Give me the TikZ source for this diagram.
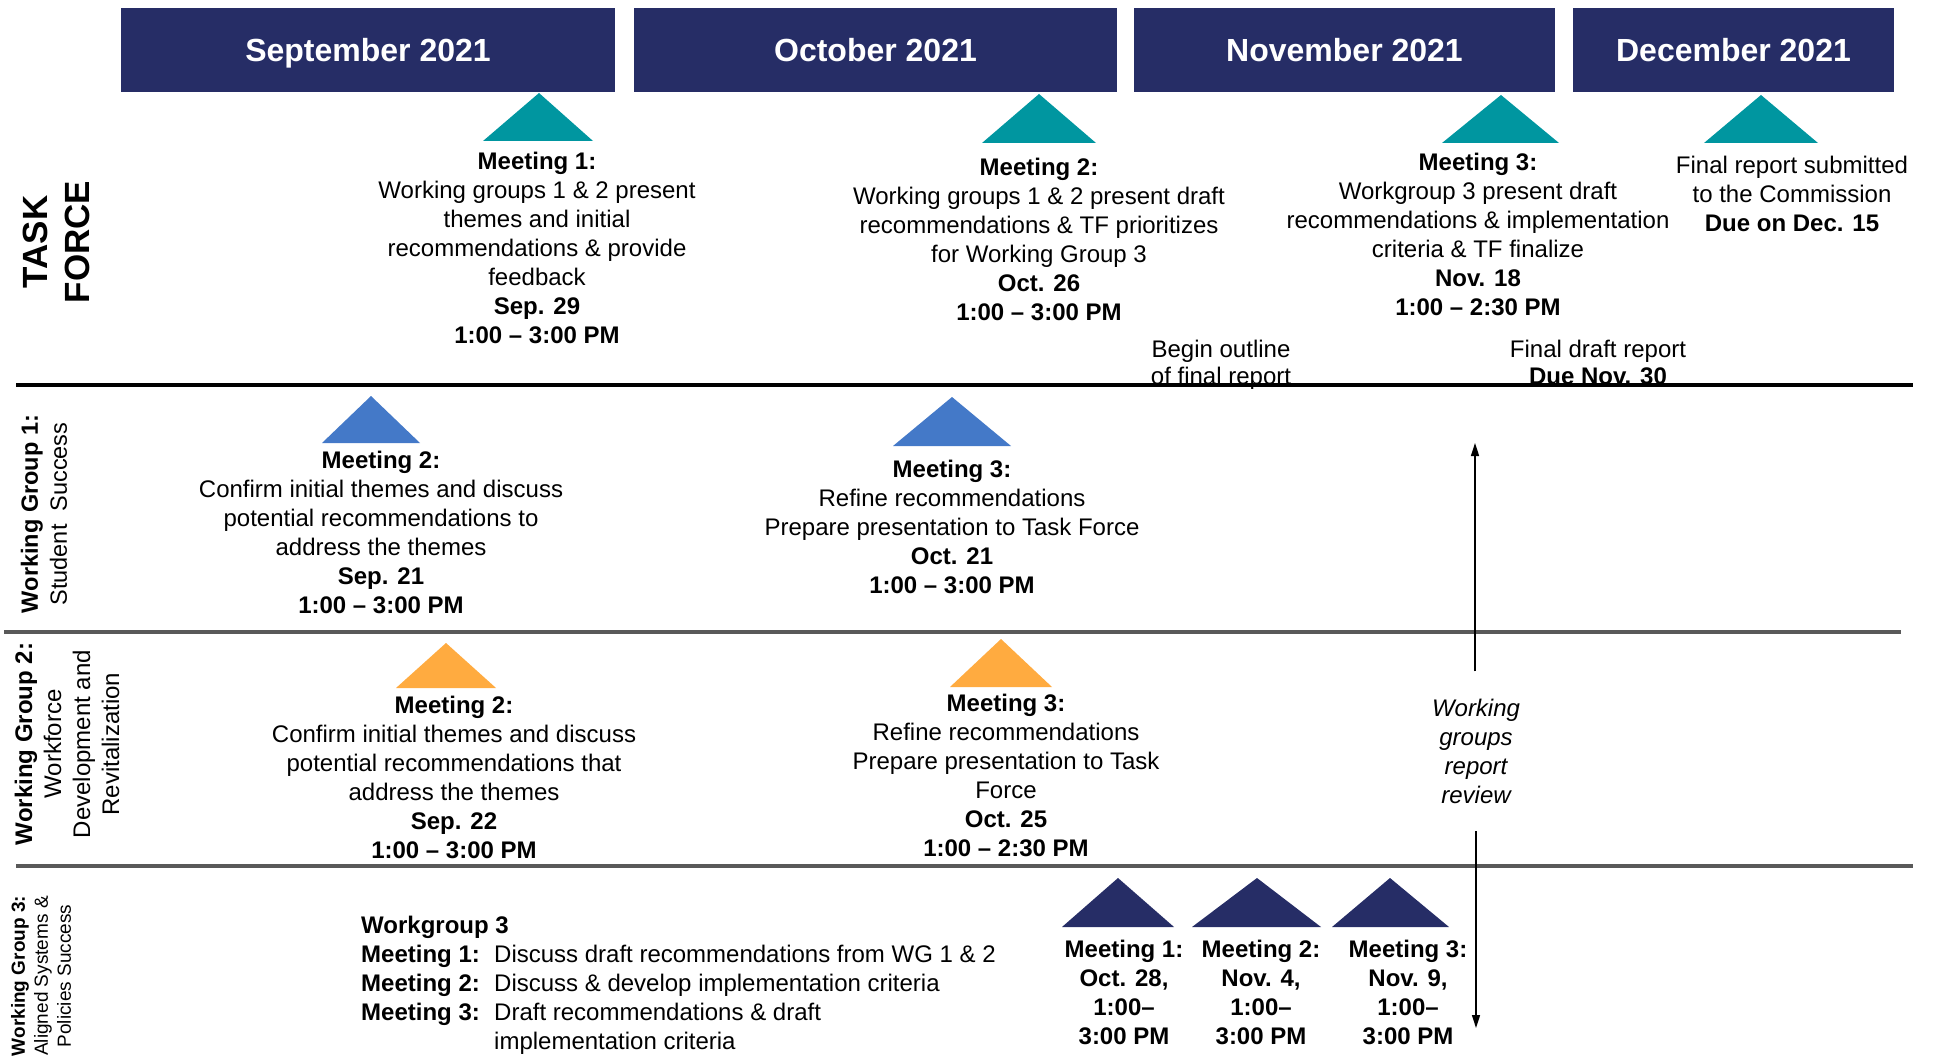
\documentclass[tikz,border=0pt]{standalone}
\usepackage{fontspec}
\setmainfont{Liberation Sans}
\usetikzlibrary{arrows.meta}
\definecolor{navy}{RGB}{38,45,102}
\definecolor{tealc}{RGB}{0,150,160}
\definecolor{bluec}{RGB}{68,121,200}
\definecolor{orangec}{RGB}{255,171,64}
\definecolor{greyline}{RGB}{89,89,89}
\begin{document}
\begin{tikzpicture}[x=1pt,y=-1pt,
  month/.style={fill=navy, text=white, font=\fontsize{32}{38}\selectfont\bfseries,
    text height=23pt, text depth=0pt, inner sep=0pt},
  body/.style={font=\fontsize{24}{29}\selectfont, align=center, inner sep=0pt, anchor=north},
  tight/.style={font=\fontsize{24}{27}\selectfont, align=center, inner sep=0pt, anchor=north},
  sidelab/.style={rotate=90, align=center, inner sep=0pt},
  arr/.style={line width=1.5pt, -{Triangle[length=13pt,width=8pt]}},
  sep/.style={line width=4pt}
]
\useasboundingbox (0,0) rectangle (1933,1059);

% month headers
\node[month, minimum width=494pt, minimum height=84pt] (sepm) at (368,50.5) {September 2021};
\node[month, minimum width=483pt, minimum height=84pt] (octm) at (875.5,50.5) {October 2021};
\node[month, minimum width=421pt, minimum height=84pt] (novm) at (1344.5,50.5) {November 2021};
\node[month, minimum width=321pt, minimum height=84pt] (decm) at (1733.5,50.5) {December 2021};

% task force triangles
\fill[tealc] (483,141) -- (539,93) -- (593,141) -- cycle;
\fill[tealc] (982,143) -- (1039,94) -- (1096,143) -- cycle;
\fill[tealc] (1442,143) -- (1501,95) -- (1559,143) -- cycle;
\fill[tealc] (1704,143) -- (1761,95) -- (1818,143) -- cycle;

% task force texts
\node[body] (tf1) at (537,151.5) {\textbf{Meeting 1:}\\Working groups 1 \& 2 present\\themes and initial\\recommendations \& provide\\feedback\\\textbf{Sep. 29}\\\textbf{1:00 – 3:00 PM}};
\node[body] (tf2) at (1039,158) {\textbf{Meeting 2:}\\Working groups 1 \& 2 present draft\\recommendations \& TF prioritizes\\for Working Group 3\\\textbf{Oct. 26}\\\textbf{1:00 – 3:00 PM}};
\node[body] (tf3) at (1478,153) {\textbf{Meeting 3:}\\Workgroup 3 present draft\\recommendations \& implementation\\criteria \& TF finalize\\\textbf{Nov. 18}\\\textbf{1:00 – 2:30 PM}};
\node[body] (tf4) at (1792,156) {Final report submitted\\to the Commission\\\textbf{Due on Dec. 15}};
\node[tight] (outl) at (1221,340) {Begin outline\\of final report};
\node[tight] (fdr) at (1598,340) {Final draft report\\\textbf{Due Nov. 30}};

% separator lines
\draw[sep, black] (16,385) -- (1913,385);
\draw[sep, greyline] (4,632) -- (1901,632);
\draw[sep, greyline] (16,866) -- (1913,866);

% side labels
\node[sidelab, font=\fontsize{35}{42}\selectfont\bfseries] (tflab) at (56.5,242) {TASK\\FORCE};
\node[sidelab, font=\fontsize{23.5}{29}\selectfont] (wg1lab) at (44,514) {\textbf{Working Group 1:}\\Student\ \ Success};
\node[sidelab, font=\fontsize{24}{29}\selectfont] (wg2lab) at (67,744) {\textbf{Working Group 2:}\\Workforce\\Development and\\Revitalization};
\node[sidelab, font=\fontsize{19}{23}\selectfont] (wg3lab) at (41,976) {\textbf{Working Group 3:}\\Aligned Systems \&\\Policies Success};

% WG1
\fill[bluec] (322,443) -- (371,396) -- (420,443) -- cycle;
\fill[bluec] (893,446) -- (952,397) -- (1011,446) -- cycle;
\node[body] (wg1a) at (381,451) {\textbf{Meeting 2:}\\Confirm initial themes and discuss\\potential recommendations to\\address the themes\\\textbf{Sep. 21}\\\textbf{1:00 – 3:00 PM}};
\node[body] (wg1b) at (952,460) {\textbf{Meeting 3:}\\Refine recommendations\\Prepare presentation to Task Force\\\textbf{Oct. 21}\\\textbf{1:00 – 3:00 PM}};

% WG2
\fill[orangec] (396,688) -- (446,643) -- (496,688) -- cycle;
\fill[orangec] (950,687) -- (1001,639) -- (1052,687) -- cycle;
\node[body] (wg2a) at (454,696) {\textbf{Meeting 2:}\\Confirm initial themes and discuss\\potential recommendations that\\address the themes\\\textbf{Sep. 22}\\\textbf{1:00 – 3:00 PM}};
\node[body] (wg2b) at (1006,694) {\textbf{Meeting 3:}\\Refine recommendations\\Prepare presentation to Task\\Force\\\textbf{Oct. 25}\\\textbf{1:00 – 2:30 PM}};

% review arrows
\node[body, font=\fontsize{24}{29}\selectfont\itshape] (rev) at (1476,699.4) {Working\\groups\\report\\review};
\coordinate (upTip) at (1475,443);
\coordinate (dnTip) at (1476,1028);
\draw[arr] ([yshift=28pt]rev.north -| upTip) -- (upTip);
\draw[arr] ([yshift=-27pt]rev.south -| dnTip) -- (dnTip);

% WG3
\node[anchor=north west, inner sep=0pt, align=left, font=\fontsize{24}{29}\selectfont\bfseries] (wg3h) at (361,916.4) {Workgroup 3\\Meeting 1:\\Meeting 2:\\Meeting 3:};
\node[anchor=north west, inner sep=0pt, align=left, font=\fontsize{24}{29}\selectfont] (wg3d) at (494,945.4) {Discuss draft recommendations from WG 1 \& 2\\Discuss \& develop implementation criteria\\Draft recommendations \& draft\\implementation criteria};
\fill[navy] (1062,927) -- (1118,878) -- (1174,927) -- cycle;
\fill[navy] (1192,927) -- (1257,878) -- (1321,927) -- cycle;
\fill[navy] (1332,927) -- (1390,878) -- (1449,927) -- cycle;
\node[body, font=\fontsize{24}{29}\selectfont\bfseries] (wg3m1) at (1124,940.4) {Meeting 1:\\Oct. 28,\\1:00–\\3:00 PM};
\node[body, font=\fontsize{24}{29}\selectfont\bfseries] (wg3m2) at (1261,940.4) {Meeting 2:\\Nov. 4,\\1:00–\\3:00 PM};
\node[body, font=\fontsize{24}{29}\selectfont\bfseries] (wg3m3) at (1408,940.4) {Meeting 3:\\Nov. 9,\\1:00–\\3:00 PM};
\end{tikzpicture}
\end{document}
